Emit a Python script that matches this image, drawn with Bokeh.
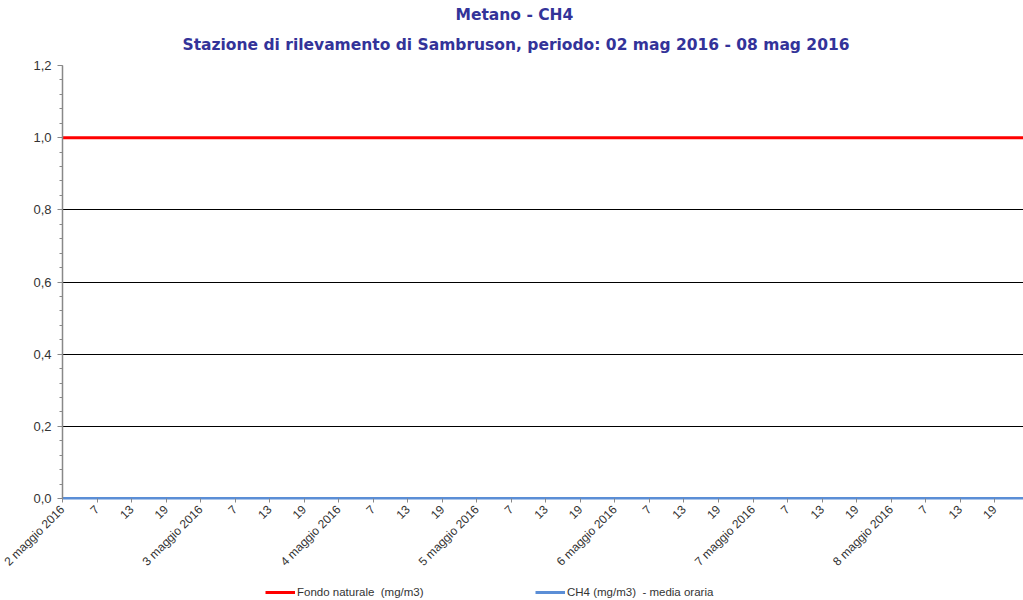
from bokeh.plotting import figure
from bokeh.layouts import column
from bokeh.models import (Range1d, FixedTicker, CustomJSTickFormatter, Title,
                          Legend, LegendItem)
from bokeh.embed import file_html
from bokeh.resources import INLINE
from math import pi

# ---- data ----
title_line1 = "Metano - CH4"
title_line2 = "Stazione di rilevamento di Sambruson, periodo: 02 mag 2016 - 08 mag 2016"
day_labels = ["2 maggio 2016", "3 maggio 2016", "4 maggio 2016", "5 maggio 2016",
              "6 maggio 2016", "7 maggio 2016", "8 maggio 2016"]
hour_labels = ["7", "13", "19"]
hours = list(range(168))
ch4_values = [0.0] * 168          # every hourly reading is 0,0
fondo_values = [1.0] * 168        # natural background 1,0 mg/m3
y_ticks = [0, 0.2, 0.4, 0.6, 0.8, 1.0, 1.2]
series_names = ["Fondo naturale  (mg/m3)", "CH4 (mg/m3)  - media oraria"]

red = "#ff0000"
blue = "#5b8ed6"

# ---- main figure ----
p = figure(width=1023, height=584, output_backend="svg",
           toolbar_location=None,
           x_range=Range1d(0, 167), y_range=Range1d(0, 1.2),
           min_border_left=62, min_border_right=0, min_border_top=65,
           min_border_bottom=86)
p.outline_line_color = None
p.background_fill_color = "white"
p.border_fill_color = "white"

p.line(hours, fondo_values, line_color=red, line_width=3)
p.line(hours, ch4_values, line_color=blue, line_width=3)

# x axis
x_ticks = list(range(0, 168, 6))
overrides = {}
for t in x_ticks:
    d, h = divmod(t, 24)
    overrides[t] = day_labels[d] if h == 0 else hour_labels[h // 6 - 1]
xa = p.xaxis[0]
xa.ticker = FixedTicker(ticks=x_ticks, minor_ticks=[])
xa.major_label_overrides = overrides
xa.major_label_orientation = pi / 4
xa.major_label_text_font = "Liberation Sans"
xa.major_label_text_font_size = "12px"
xa.major_label_text_color = "#333333"
xa.axis_line_color = blue
xa.axis_line_width = 2
xa.major_tick_line_color = "#888888"
xa.major_tick_in = 0
xa.major_tick_out = 4
xa.minor_tick_line_color = None
xa.major_label_standoff = 5

# y axis
ya = p.yaxis[0]
minor = [round(i * 0.04, 2) for i in range(31)]
ya.ticker = FixedTicker(ticks=y_ticks, minor_ticks=minor)
ya.formatter = CustomJSTickFormatter(code="return tick.toFixed(1).replace('.', ',');")
ya.major_label_text_font = "Liberation Sans"
ya.major_label_text_font_size = "13px"
ya.major_label_text_color = "#333333"
ya.axis_line_color = "#888888"
ya.axis_line_width = 1.5
ya.major_tick_line_color = "#888888"
ya.major_tick_in = 0
ya.major_tick_out = 5
ya.minor_tick_line_color = "#888888"
ya.minor_tick_in = 0
ya.minor_tick_out = 3
ya.major_label_standoff = 6

p.xgrid.grid_line_color = None
p.ygrid.ticker = FixedTicker(ticks=y_ticks)
p.ygrid.grid_line_color = "#000000"
p.ygrid.grid_line_width = 1

# titles (first added sits nearest the frame)
for txt, off, so in [(title_line2, 120, 23), (title_line1, 393, -2)]:
    p.add_layout(Title(text=txt, align="left", offset=off,
                       text_font="DejaVu Sans", text_font_style="bold",
                       text_font_size="15.5px", text_color="#333399",
                       standoff=so), "above")

# ---- legend strip (series drawn out of view, legend only) ----
q = figure(width=1023, height=16, output_backend="svg", toolbar_location=None,
           x_range=Range1d(0, 167), y_range=Range1d(10, 11),
           min_border_left=0, min_border_right=0, min_border_top=0,
           min_border_bottom=0)
q.axis.visible = False
q.grid.grid_line_color = None
q.outline_line_color = None
q.border_fill_color = "white"
lr_fondo = q.line(hours, fondo_values, line_color=red, line_width=3)
lr_ch4 = q.line(hours, ch4_values, line_color=blue, line_width=3)

legend = Legend(items=[LegendItem(label=series_names[0], renderers=[lr_fondo]),
                       LegendItem(label=series_names[1], renderers=[lr_ch4])],
                location=(203, 1), orientation="horizontal",
                padding=0, margin=0, spacing=0, label_width=238,
                glyph_width=30, glyph_height=14, label_height=14,
                label_standoff=2, label_text_font="Liberation Sans",
                label_text_font_size="11.5px", label_text_color="#333333",
                background_fill_alpha=0, border_line_color=None)
q.add_layout(legend, "center")

layout = column(p, q, spacing=0)
open("out.html", "w").write(file_html(layout, INLINE))
